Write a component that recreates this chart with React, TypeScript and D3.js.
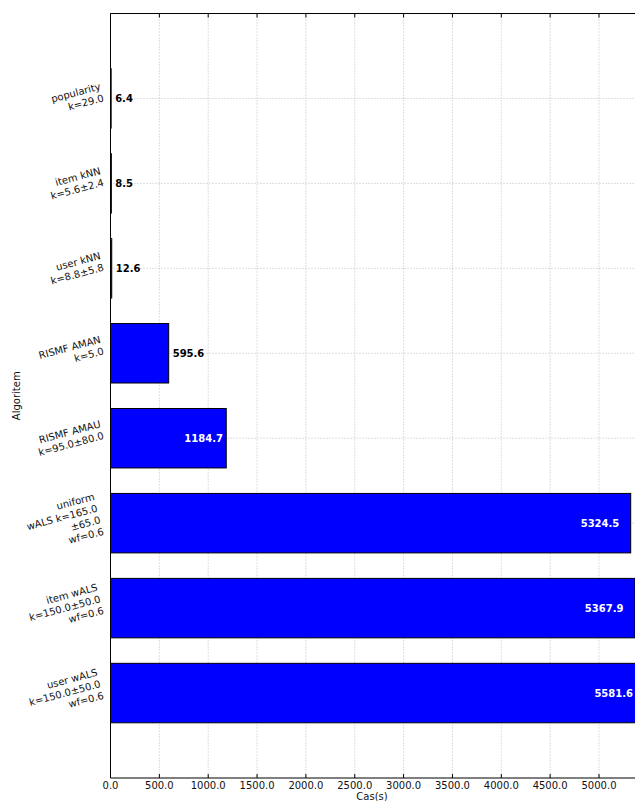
import React from "react";
import * as d3 from "d3";

// Algorithm names (multi-line tick labels), top to bottom
const algorithms: string[][] = [
  ["popularity", "k=29.0"],
  ["item kNN", "k=5.6±2.4"],
  ["user kNN", "k=8.8±5.8"],
  ["RISMF AMAN", "k=5.0"],
  ["RISMF AMAU", "k=95.0±80.0"],
  ["uniform", "wALS k=165.0", "±65.0", "wf=0.6"],
  ["item wALS", "k=150.0±50.0", "wf=0.6"],
  ["user wALS", "k=150.0±50.0", "wf=0.6"],
];

// Run time in seconds for each algorithm
const times: number[] = [6.4, 8.5, 12.6, 595.6, 1184.7, 5324.5, 5367.9, 5581.6];

const xTicks: number[] = [0, 500, 1000, 1500, 2000, 2500, 3000, 3500, 4000, 4500, 5000];

const W = 635;
const H = 801;
const FONT = "'DejaVu Sans', 'Liberation Sans', sans-serif";

let measureCtx: CanvasRenderingContext2D | null = null;
function textWidth(s: string, size: number): number {
  if (!measureCtx) {
    const c = document.createElement("canvas");
    measureCtx = c.getContext("2d");
  }
  if (!measureCtx) return s.length * size * 0.6;
  measureCtx.font = `${size}px 'DejaVu Sans'`;
  return measureCtx.measureText(s).width;
}

export default function App() {
  const left = 110.5;
  const top = 13.5;
  const bottom = 778;
  const right = 640;

  const x = d3.scaleLinear().domain([0, 5000]).range([left, 599]);
  const y = d3.scaleLinear().domain([-1, algorithms.length]).range([top, bottom]);
  const barH = y(0.7) - y(0);

  const rot = 15;
  const th = (rot * Math.PI) / 180;
  const fs = 10;
  const lh = 12;

  const gridColor = "#bdbdbd";

  return (
    <svg
      width={W}
      height={H}
      style={{ position: "absolute", left: 0, top: 0, background: "#fff" }}
      fontFamily={FONT}
    >
      <rect x={0} y={0} width={W} height={H} fill="#fff" />

      {/* grid */}
      <g stroke={gridColor} strokeWidth={1} strokeDasharray="1,2">
        {xTicks.map((t) => (
          <line key={"gx" + t} x1={x(t)} x2={x(t)} y1={top} y2={bottom} />
        ))}
        {algorithms.map((_, i) => (
          <line key={"gy" + i} x1={left} x2={right} y1={y(i)} y2={y(i)} />
        ))}
      </g>

      {/* bars */}
      {times.map((v, i) => (
        <rect
          key={"b" + i}
          x={x(0)}
          y={y(i) - barH / 2}
          width={Math.max(0, x(v) - x(0))}
          height={barH}
          fill="#0000ff"
          stroke="#000"
          strokeWidth={1}
        />
      ))}

      {/* value labels: inside long bars, after short ones */}
      {times.map((v, i) => {
        const inside = v > 1000;
        return (
          <text
            key={"v" + i}
            x={inside ? Math.min(x(v * 0.98) - 1, W - 2) : x(v) + 4}
            y={y(i)}
            dy="0.35em"
            textAnchor={inside ? "end" : "start"}
            fontSize={10}
            fontWeight="bold"
            fill={inside ? "#fff" : "#000"}
          >
            {v.toFixed(1)}
          </text>
        );
      })}

      {/* spines */}
      <g stroke="#000" strokeWidth={1} fill="none">
        <line x1={left} x2={right} y1={top} y2={top} />
        <line x1={left} x2={right} y1={bottom} y2={bottom} />
        <line x1={left} x2={left} y1={top} y2={bottom} />
      </g>

      {/* x ticks (pointing inward) */}
      <g stroke="#000" strokeWidth={1}>
        {xTicks.map((t) => (
          <g key={"tk" + t}>
            <line x1={x(t)} x2={x(t)} y1={bottom} y2={bottom - 4} />
            <line x1={x(t)} x2={x(t)} y1={top} y2={top + 4} />
          </g>
        ))}
      </g>

      {/* x tick labels */}
      {xTicks.map((t) => (
        <text
          key={"xl" + t}
          x={x(t)}
          y={788.5}
          textAnchor="middle"
          fontSize={10}
          fill="#111"
        >
          {t.toFixed(1)}
        </text>
      ))}

      {/* rotated multi-line y tick labels */}
      {algorithms.map((lines, i) => {
        const w = Math.max(...lines.map((s) => textWidth(s, fs)));
        const h = lines.length * lh;
        const edge = 105;
        const cx = edge - (w / 2) * Math.cos(th) - (h / 2) * Math.sin(th);
        const cy = y(i);
        return (
          <g key={"yl" + i} transform={`translate(${cx},${cy}) rotate(${-rot})`}>
            {lines.map((s, k) => (
              <text
                key={k}
                x={w / 2}
                y={-h / 2 + lh / 2 + k * lh}
                dy="0.35em"
                textAnchor="end"
                fontSize={fs}
                fill="#111"
              >
                {s}
              </text>
            ))}
          </g>
        );
      })}

      {/* axis titles */}
      <text
        transform={`translate(20,${(top + bottom) / 2}) rotate(-90)`}
        textAnchor="middle"
        fontSize={10}
        fill="#111"
      >
        Algoritem
      </text>
      <text x={372} y={800} textAnchor="middle" fontSize={10} fill="#111">
        Cas(s)
      </text>
    </svg>
  );
}
